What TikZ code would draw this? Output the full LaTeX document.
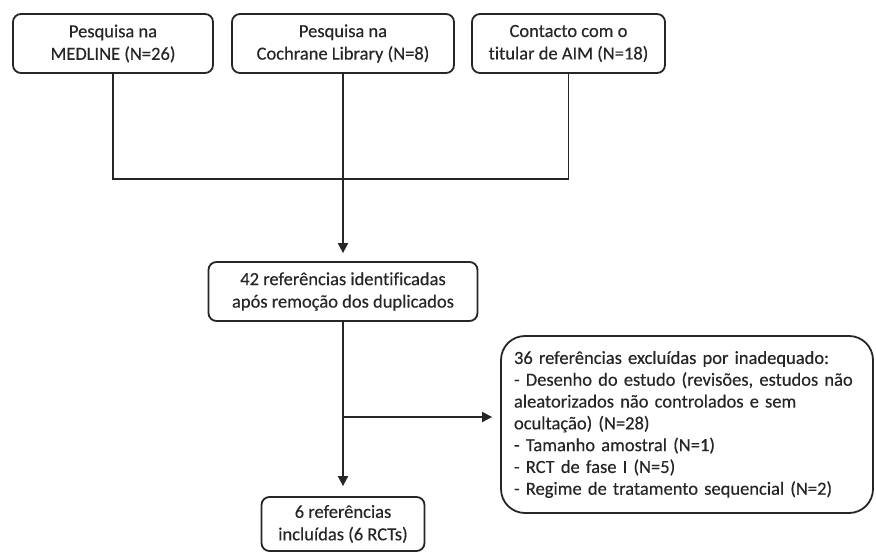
\documentclass[tikz,border=0pt]{standalone}
\usepackage{fontspec}
\setmainfont{Carlito}[Ligatures=NoCommon, FakeBold=0.3]
\usetikzlibrary{arrows.meta}
\definecolor{ink}{HTML}{262626}
\tikzset{
  box/.style={draw=ink, line width=1.8pt, rounded corners=8pt, align=center,
    inner sep=0pt, text=ink, font=\fontsize{18.5}{22.5}\selectfont},
  bigbox/.style={draw=ink, line width=1.8pt, rounded corners=24pt, align=left,
    inner sep=0pt, text=ink, font=\fontsize{18.5}{21.8}\selectfont},
  link/.style={draw=ink, line width=1.8pt},
  arrow/.style={link, -{Triangle[width=10pt,length=10pt]}},
}
\begin{document}
\begin{tikzpicture}[x=1pt,y=-1pt]
\useasboundingbox[fill=white] (0,0) rectangle (876,553);
\node[box, minimum width=200pt, minimum height=59pt] (b1) at (113,43.5) {Pesquisa na\\MEDLINE (N=26)};
\node[box, minimum width=222pt, minimum height=59pt] (b2) at (343,43.5) {Pesquisa na\\Cochrane Library (N=8)};
\node[box, minimum width=193pt, minimum height=59pt] (b3) at (568.5,43.5) {Contacto com o\\titular de AIM (N=18)};
\node[box, minimum width=269pt, minimum height=59pt] (mid) at (343,291.5) {42 referências identificadas\\após remoção dos duplicados};
\node[box, minimum width=163pt, minimum height=54pt] (bot) at (343,524) {6 referências\\incluídas (6 RCTs)};
\node[bigbox, minimum width=372pt, minimum height=177pt, text width=346pt] (ex) at (687,424.5) {36 referências excluídas por inadequado:\\
- Desenho do estudo (revisões, estudos não\\
aleatorizados não controlados e sem\\
ocultação) (N=28)\\
- Tamanho amostral (N=1)\\
- RCT de fase I (N=5)\\
- Regime de tratamento sequencial (N=2)};
\coordinate (join) at (343,179);
\coordinate (br) at (343,417);
\draw[link] (b1.south) |- (join);
\draw[link] (b3.south) |- (join);
\draw[link] (b2.south) -- (join);
\draw[arrow, shorten >=8pt] (join) -- (mid.north);
\draw[arrow, shorten >=10pt] (mid.south) -- (bot.north);
\draw[arrow, shorten >=8pt] (br) -- (ex.west |- br);
\end{tikzpicture}
\end{document}
